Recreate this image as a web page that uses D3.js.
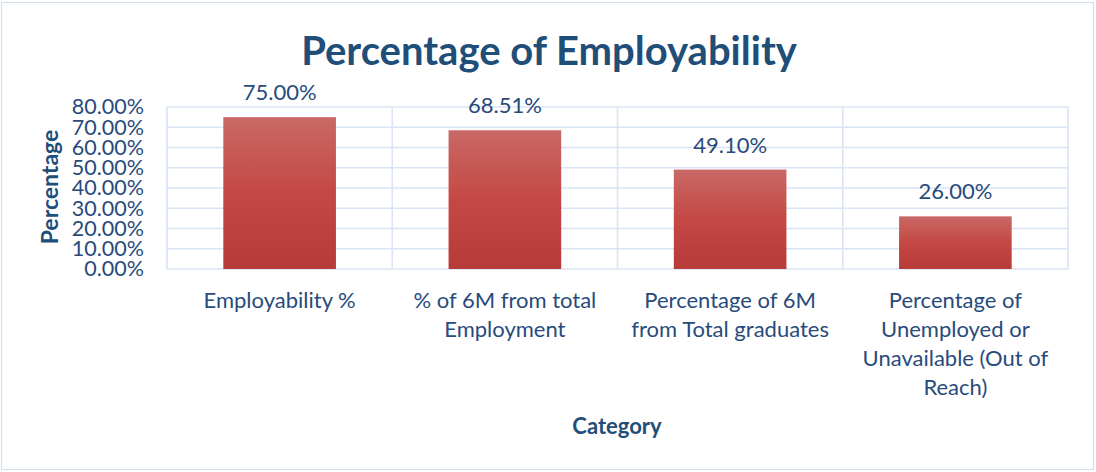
<!DOCTYPE html>
<html><head><meta charset="utf-8">
<script src="https://cdn.jsdelivr.net/npm/d3@7"></script>
<style>body{margin:0;background:#fff} text{font-family:Lato, "Open Sans", sans-serif}</style></head>
<body><svg id="c" width="1096" height="472"></svg>
<script>
const categories = ["Employability %", "% of 6M from total Employment", "Percentage of 6M from Total graduates", "Percentage of Unemployed or Unavailable (Out of Reach)"];
const values = [0.75, 0.6851, 0.491, 0.26];
const yTicks = [0, 0.1, 0.2, 0.3, 0.4, 0.5, 0.6, 0.7, 0.8];
const title = "Percentage of Employability";
const xTitle = "Category";
const yTitle = "Percentage";

const svg = d3.select("#c");
const textColor = "#284b7c";
const gridColor = "#d9e4f4";
const L = 167, R = 1068, T = 107, B = 269;

svg.append("rect").attr("x", 1.5).attr("y", 2.5).attr("width", 1092).attr("height", 467)
  .attr("fill", "#fff").attr("stroke", "#d5dfec").attr("stroke-width", 1.2);

const x = d3.scaleBand().domain(categories).range([L, R]).paddingInner(0.5).paddingOuter(0.25);
const y = d3.scaleLinear().domain([0, 0.8]).range([B, T]);
const step = x.step();

const defs = svg.append("defs");
const g = defs.append("linearGradient").attr("id", "barGrad").attr("x1", 0).attr("y1", 0).attr("x2", 0).attr("y2", 1);
g.append("stop").attr("offset", "0%").attr("stop-color", "#c96966");
g.append("stop").attr("offset", "50%").attr("stop-color", "#c44844");
g.append("stop").attr("offset", "100%").attr("stop-color", "#b63b39");

svg.append("g").selectAll("line").data(yTicks).join("line")
  .attr("x1", L).attr("x2", R).attr("y1", d => y(d)).attr("y2", d => y(d))
  .attr("stroke", gridColor).attr("stroke-width", 1.6);
const vLines = categories.map(c => x(c) - step * x.paddingInner() / 2).concat([R]);
svg.append("g").selectAll("line").data(vLines).join("line")
  .attr("x1", d => d).attr("x2", d => d).attr("y1", T).attr("y2", B)
  .attr("stroke", gridColor).attr("stroke-width", 1.6);

svg.append("g").selectAll("rect").data(values).join("rect")
  .attr("x", (d, i) => x(categories[i])).attr("width", x.bandwidth())
  .attr("y", d => y(d)).attr("height", d => B - y(d))
  .attr("fill", "url(#barGrad)");

svg.append("g").selectAll("text").data(values).join("text")
  .attr("x", (d, i) => x(categories[i]) + x.bandwidth() / 2)
  .attr("y", d => y(d) - 17)
  .attr("text-anchor", "middle").attr("fill", textColor).attr("font-size", 22)
  .text(d => d3.format(".2%")(d));

const yAxis = svg.append("g").attr("transform", `translate(${L},0)`)
  .call(d3.axisLeft(y).tickValues(yTicks).tickFormat(d3.format(".2%")).tickSize(0).tickPadding(23));
yAxis.select(".domain").remove();
yAxis.selectAll("text").attr("fill", textColor).attr("font-size", 21.5).attr("font-family", "Lato, sans-serif");

const xAxis = svg.append("g").attr("transform", `translate(0,${B})`)
  .call(d3.axisBottom(x).tickSize(0).tickPadding(0));
xAxis.select(".domain").remove();
xAxis.selectAll("text").attr("fill", textColor).attr("font-size", 22).attr("font-family", "Lato, sans-serif")
  .each(function(d) {
    const t = d3.select(this);
    const words = d.split(" ");
    t.text(null).attr("y", 0).attr("dy", null);
    const lines = [];
    let line = [];
    const probe = t.append("tspan");
    words.forEach(w => {
      line.push(w);
      probe.text(line.join(" "));
      if (probe.node().getComputedTextLength() > 212 && line.length > 1) {
        line.pop();
        lines.push(line.join(" "));
        line = [w];
      }
    });
    lines.push(line.join(" "));
    probe.remove();
    lines.forEach((ln, i) => {
      t.append("tspan").attr("x", 0).attr("y", 39 + i * 29).text(ln);
    });
  });

svg.append("text").attr("x", 549).attr("y", 65).attr("text-anchor", "middle")
  .attr("fill", "#1f4e79").attr("font-weight", "bold").attr("font-size", 40).text(title);

svg.append("text").attr("x", 617).attr("y", 434).attr("text-anchor", "middle")
  .attr("fill", "#1f4e79").attr("font-weight", "bold").attr("font-size", 22).text(xTitle);
svg.append("text").attr("transform", "translate(58,187) rotate(-90)").attr("text-anchor", "middle")
  .attr("fill", "#1f4e79").attr("font-weight", "bold").attr("font-size", 23).text(yTitle);
</script></body></html>
